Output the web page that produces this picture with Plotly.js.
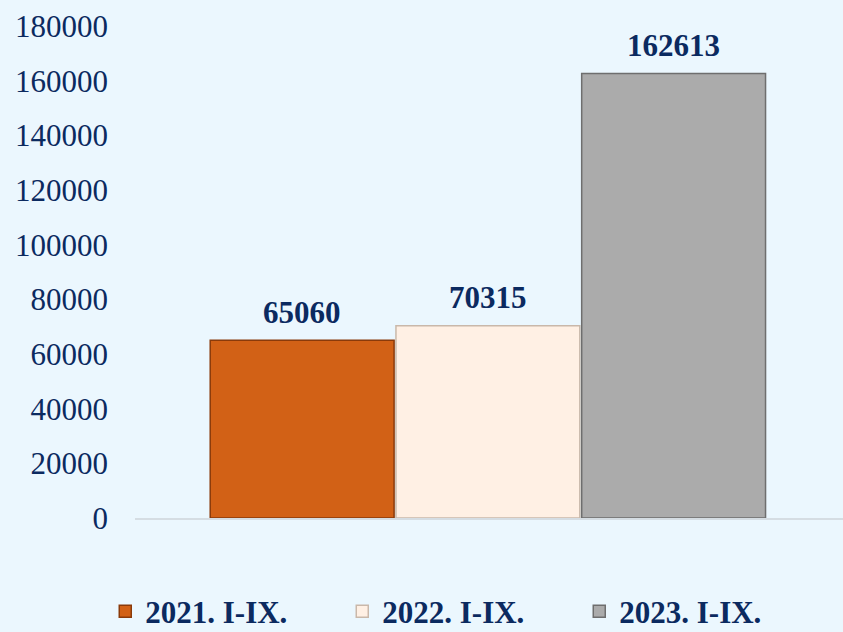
<!DOCTYPE html>
<html>
<head>
<meta charset="utf-8">
<script src="https://cdn.plot.ly/plotly-3.0.1.min.js"></script>
<style>
  html, body { margin: 0; padding: 0; background: #EBF7FE; }
  #chart { width: 843px; height: 632px; }
</style>
</head>
<body>
<div id="chart"></div>
<script>
const periods = ['2021. I-IX.', '2022. I-IX.', '2023. I-IX.'];
const values = [65060, 70315, 162613];
const colors = ['#D26116', '#FFF0E4', '#ABABAB'];
const edges = ['#8A3A0A', '#C9B8AA', '#6E6E6E'];

const navy = '#0B2A60';
const serif = '"Liberation Serif", "Times New Roman", serif';

// one bar per trace so each period gets its own legend entry
const data = periods.map((p, i) => ({
  type: 'bar',
  name: p,
  x: [p],
  y: [values[i]],
  width: 0.99,
  marker: {color: colors[i], line: {color: edges[i], width: 1.5}},
  hoverinfo: 'skip'
}));

// value labels above the bars
const labels = periods.map((p, i) => ({
  x: p, y: values[i],
  xref: 'x', yref: 'y',
  text: String(values[i]),
  showarrow: false,
  yanchor: 'middle',
  yshift: 28,
  font: {family: serif, size: 31, color: navy, weight: 'bold'}
}));

const layout = {
  width: 843,
  height: 632,
  margin: {l: 135, r: 0, t: 26, b: 114, autoexpand: false},
  paper_bgcolor: '#EBF7FE',
  plot_bgcolor: '#EBF7FE',
  barmode: 'overlay',
  showlegend: true,
  annotations: labels,
  legend: {
    orientation: 'h',
    x: -0.042, xanchor: 'left',
    y: -0.19, yanchor: 'middle',
    entrywidth: 192,
    font: {family: serif, size: 31, color: navy, weight: 'bold'},
    bgcolor: 'rgba(0,0,0,0)'
  },
  xaxis: {
    type: 'category',
    range: [-0.9, 2.912],
    showticklabels: false,
    showline: true, linecolor: '#D5DDE3', linewidth: 1.5,
    showgrid: false, zeroline: false
  },
  yaxis: {
    range: [0, 180000],
    dtick: 20000,
    showgrid: false, zeroline: false, showline: false,
    tickformat: 'd',
    ticklabelstandoff: 26,
    tickfont: {family: serif, size: 31, color: navy}
  }
};

Plotly.newPlot('chart', data, layout, {displayModeBar: false, staticPlot: true});
</script>
</body>
</html>
